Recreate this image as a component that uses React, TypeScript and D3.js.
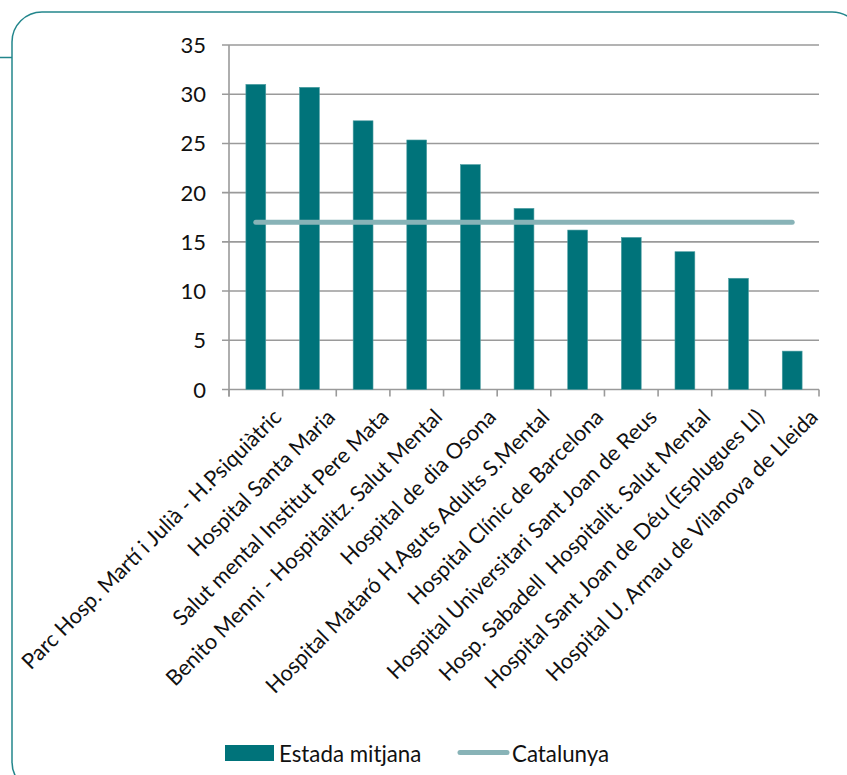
import React from "react";
import * as d3 from "d3";

const categories = [
  "Parc Hosp. Martí i Julià - H.Psiquiàtric",
  "Hospital Santa Maria",
  "Salut mental Institut Pere Mata",
  "Benito Menni - Hospitalitz. Salut Mental",
  "Hospital de dia Osona",
  "Hospital Mataró H.Aguts Adults S.Mental",
  "Hospital Clínic de Barcelona",
  "Hospital Universitari Sant Joan de Reus",
  "Hosp. Sabadell  Hospitalit. Salut Mental",
  "Hospital Sant Joan de Déu (Esplugues Ll)",
  "Hospital U. Arnau de Vilanova de Lleida",
];
const estadaMitjana = [31.0, 30.7, 27.3, 25.35, 22.85, 18.4, 16.2, 15.45, 14.0, 11.3, 3.9];
const catalunya = [17, 17, 17, 17, 17, 17, 17, 17, 17, 17, 17];
const yTicks = [0, 5, 10, 15, 20, 25, 30, 35];
const legendLabels = ["Estada mitjana", "Catalunya"];

const W = 847;
const H = 775;
const left = 229;
const right = 819;
const top = 45;
const bottom = 389.5;
const BAR = "#00737A";
const LINE = "#88B3B7";
const GRID = "#9A9A9A";
const FRAME = "#23868C";
const FONT = "Lato, 'Open Sans', sans-serif";

export default function App() {
  const x = d3
    .scaleBand<string>()
    .domain(categories)
    .range([left, right])
    .paddingInner(0.63)
    .paddingOuter(0.315);
  const y = d3.scaleLinear().domain([0, 35]).range([bottom, top]);
  const step = (right - left) / categories.length;
  const center = (c: string) => (x(c) as number) + x.bandwidth() / 2;

  const linePath = d3
    .line<number>()
    .x((_, i) => center(categories[i]))
    .y((d) => y(d))(catalunya) as string;

  const boundaries = d3.range(categories.length + 1).map((i) => left + i * step);

  return (
    <svg
      width={W}
      height={H}
      style={{ position: "absolute", left: 0, top: 0, background: "#fff" }}
      fontFamily={FONT}
    >
      <rect x={0} y={0} width={W} height={H} fill="#fff" />
      {/* frame */}
      <rect x={12} y={12} width={850} height={780} rx={30} ry={30} fill="none" stroke={FRAME} strokeWidth={1.5} />
      <line x1={0} x2={12} y1={57.5} y2={57.5} stroke={FRAME} strokeWidth={1.5} />

      {/* gridlines */}
      {yTicks.map((t) => (
        <line key={"g" + t} x1={left - 7} x2={right} y1={y(t)} y2={y(t)} stroke={GRID} strokeWidth={1.6} />
      ))}
      {/* y axis */}
      <line x1={left} x2={left} y1={top} y2={bottom + 7} stroke={GRID} strokeWidth={1.6} />
      {/* x ticks */}
      {boundaries.map((bx, i) => (
        <line key={"xt" + i} x1={bx} x2={bx} y1={bottom} y2={bottom + 7} stroke={GRID} strokeWidth={1.6} />
      ))}
      {/* y labels */}
      {yTicks.map((t) => (
        <text key={"yl" + t} x={206} y={y(t) + 8} textAnchor="end" fontSize={22} fill="#111">
          {t}
        </text>
      ))}

      {/* bars */}
      {categories.map((c, i) => (
        <rect
          key={"b" + i}
          x={x(c)}
          y={y(estadaMitjana[i])}
          width={x.bandwidth()}
          height={y(0) - y(estadaMitjana[i])}
          fill={BAR}
          stroke="#4E9EA2"
          strokeWidth={0.6}
        />
      ))}

      {/* Catalunya line */}
      <path d={linePath} fill="none" stroke={LINE} strokeWidth={5} strokeLinecap="round" />

      {/* x labels */}
      {categories.map((c, i) => (
        <text
          key={"xl" + i}
          transform={`translate(${center(c) + 27},${bottom + 29}) rotate(-45)`}
          textAnchor="end"
          fontSize={21.7}
          fill="#111"
          style={{ whiteSpace: "pre" }}
        >
          {c}
        </text>
      ))}

      {/* legend */}
      <rect x={225} y={745} width={49} height={16} fill={BAR} />
      <text x={279} y={762} fontSize={22.3} fill="#111">
        {legendLabels[0]}
      </text>
      <line x1={460} x2={507} y1={752.5} y2={752.5} stroke={LINE} strokeWidth={5} strokeLinecap="round" />
      <text x={512} y={762} fontSize={22.3} fill="#111">
        {legendLabels[1]}
      </text>
    </svg>
  );
}
